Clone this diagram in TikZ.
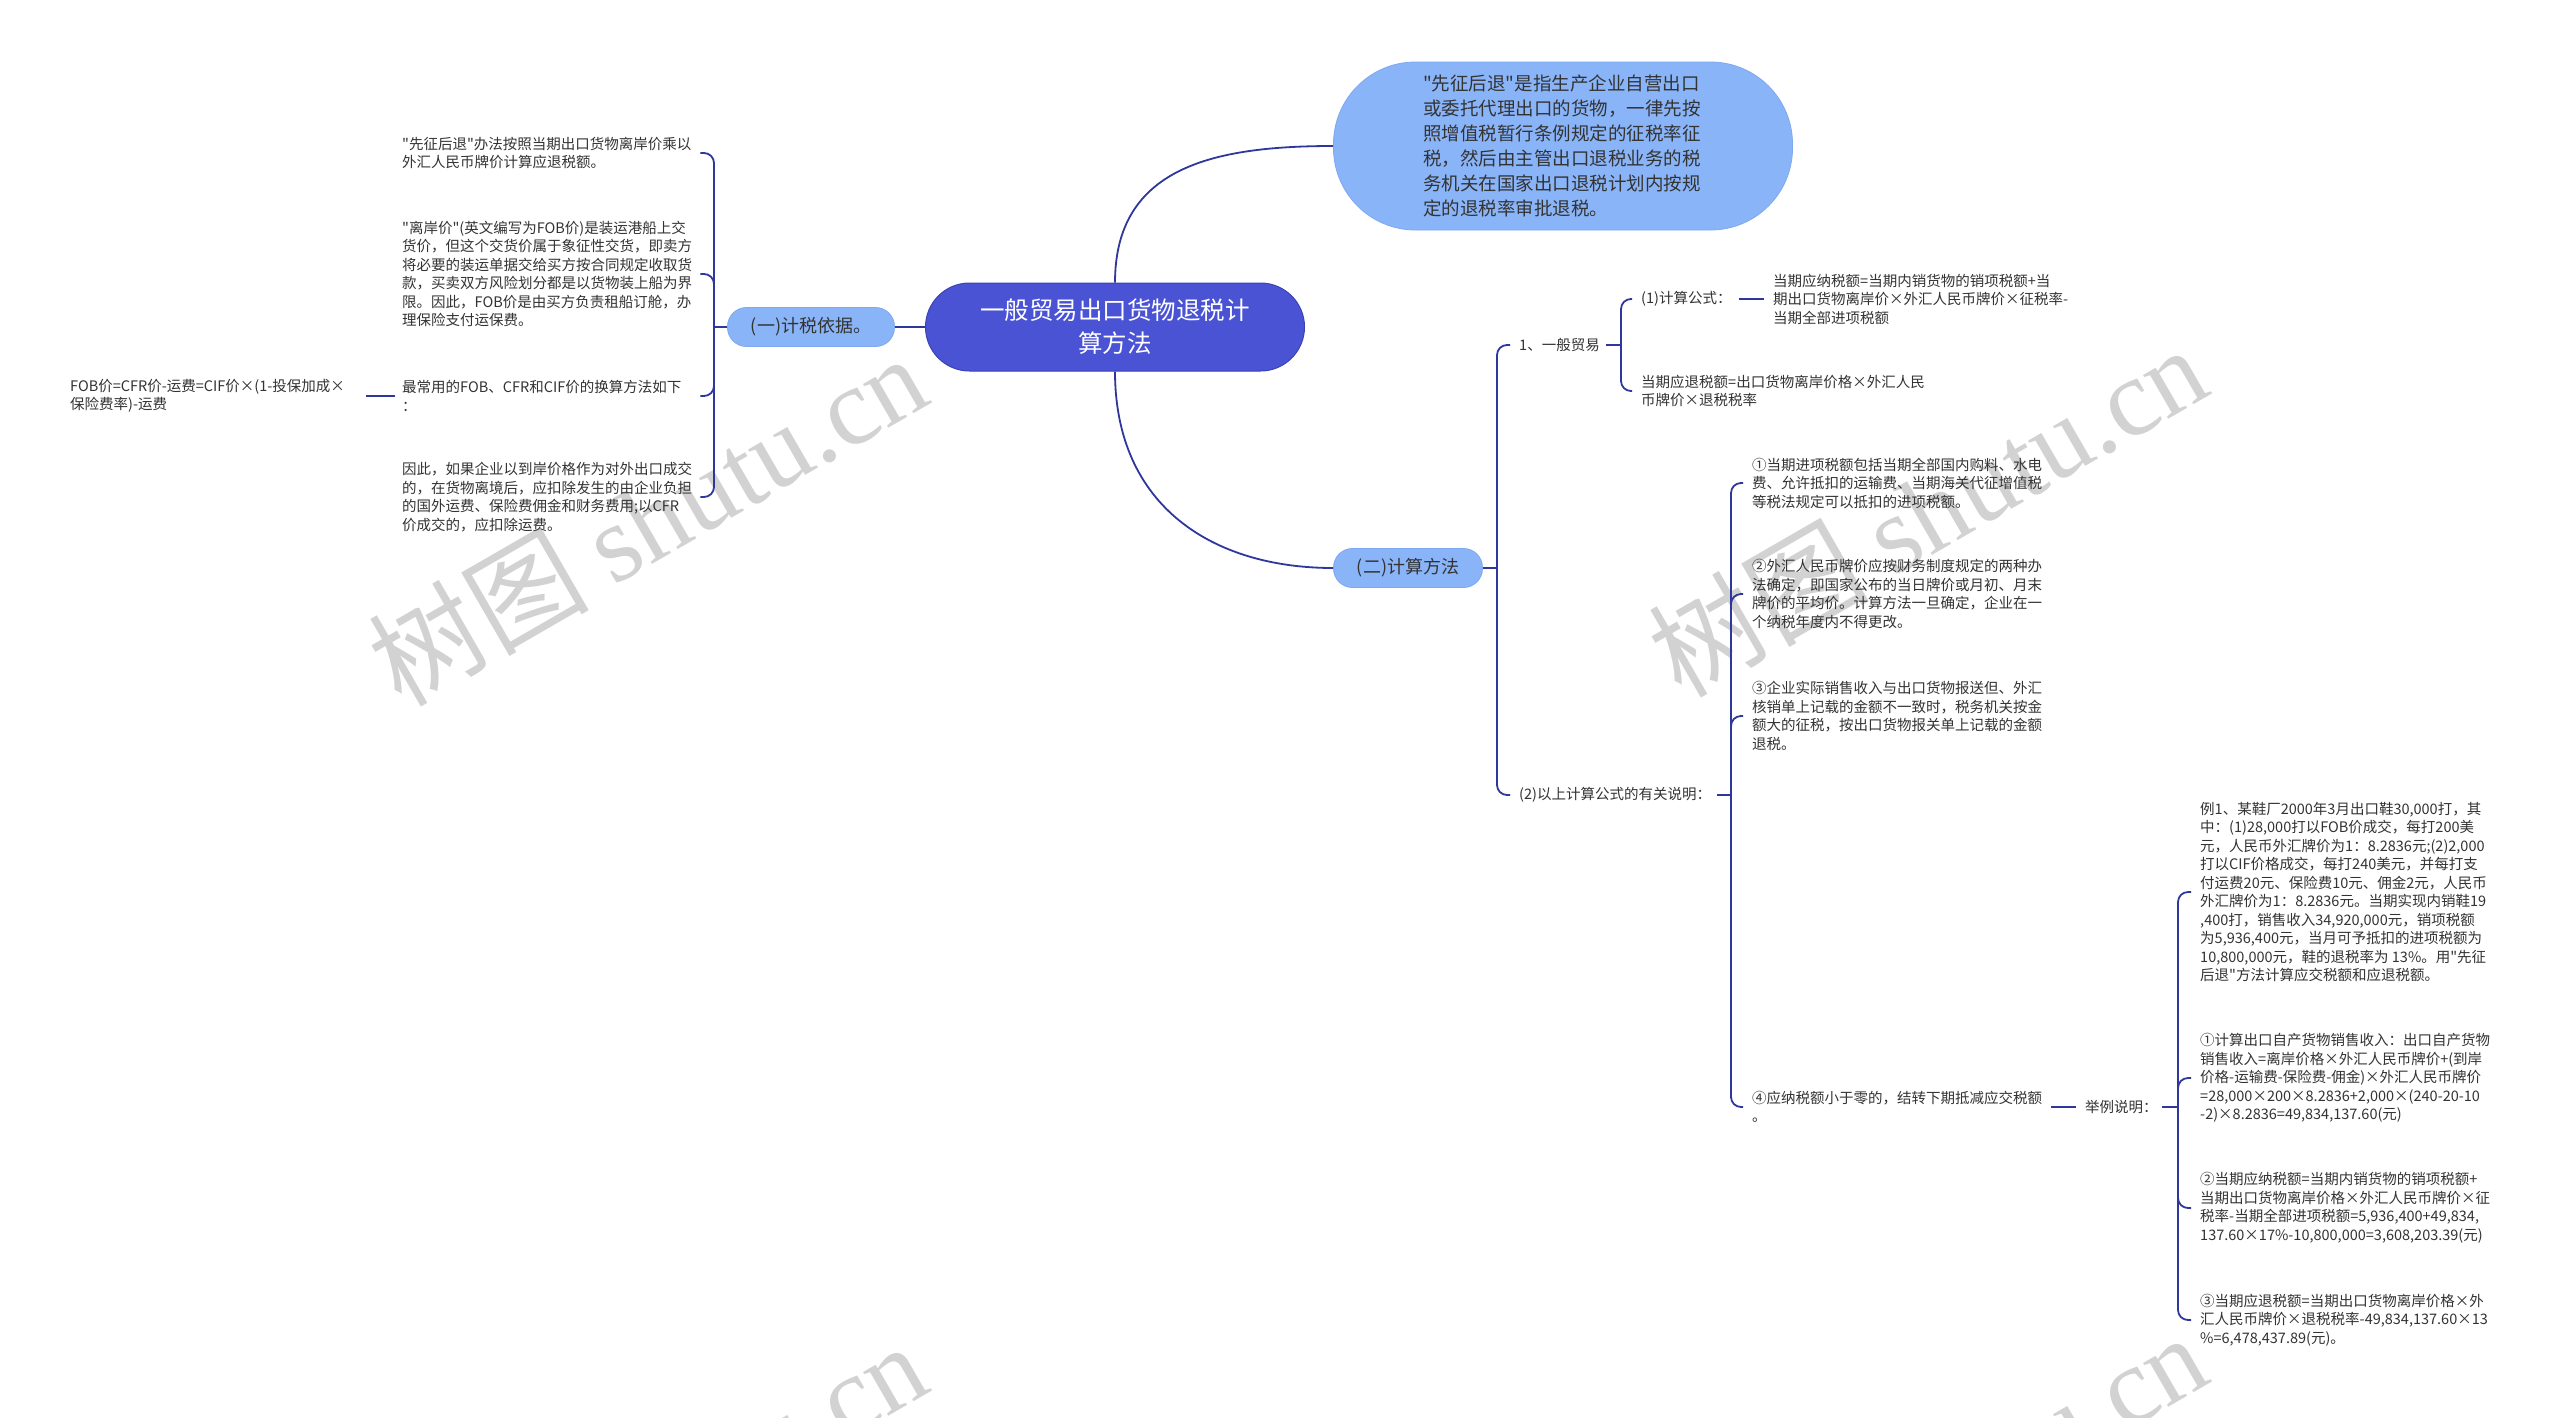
\documentclass[tikz,border=0pt]{standalone}
\usepackage{fontspec}
\setmainfont{Noto Sans CJK SC}[Ligatures=TeXOff]
\newfontfamily\wmserif{Liberation Serif}
\usetikzlibrary{calc}
\definecolor{conn}{HTML}{2E379B}
\definecolor{rootfill}{HTML}{4B53D5}
\definecolor{rootdraw}{HTML}{3A42B5}
\definecolor{lightfill}{HTML}{8AB4F8}
\definecolor{lightdraw}{HTML}{7EA8F0}
\definecolor{txt}{HTML}{333333}
\definecolor{wmgray}{HTML}{D2D2D2}
\tikzset{
  link/.style={draw=conn, line width=1.8pt, rounded corners=10pt},
  leaf/.style={inner sep=0pt, align=left, text=txt, font=\fontsize{14.5}{18.5}\selectfont, anchor=west},
  leafw/.style={leaf, text width=292pt},
  rootbox/.style={draw=rootdraw, fill=rootfill, line width=1pt, rounded corners=44pt, minimum width=379pt, minimum height=88pt, inner sep=0pt, text=white, align=center, font=\fontsize{24.5}{33}\selectfont},
  bubble/.style={draw=lightdraw, fill=lightfill, line width=0.8pt, rounded corners=82pt, minimum width=459pt, minimum height=168pt, inner sep=0pt, text width=280pt, align=left, text=txt, font=\fontsize{18.5}{25}\selectfont},
  subbox/.style={draw=lightdraw, fill=lightfill, line width=0.8pt, rounded corners=19pt, minimum height=39pt, inner sep=0pt, text=txt, font=\fontsize{18}{22}\selectfont},
  wmark/.style={text=wmgray, rotate=30, inner sep=0pt, font=\fontsize{110}{120}\selectfont},
}
\begin{document}
\begin{tikzpicture}[x=1pt,y=-1pt]
\useasboundingbox (0,0) rectangle (2560,1417);
\fill[white] (0,0) rectangle (2560,1417);
% watermarks
\node[wmark] (wm1) at (647,519) {树图 {\wmserif shutu.cn}};
\node[wmark] (wm2) at (1927,510) {树图 {\wmserif shutu.cn}};
\node[wmark] (wm3) at (647,1507) {树图 {\wmserif shutu.cn}};
\node[wmark] (wm4) at (1927,1498) {树图 {\wmserif shutu.cn}};
% main nodes
\node[rootbox] (root) at (1115,327) {一般贸易出口货物退税计\\算方法};
\node[bubble] (def) at (1563,146) {"先征后退"是指生产企业自营出口\\或委托代理出口的货物，一律先按\\照增值税暂行条例规定的征税率征\\税，然后由主管出口退税业务的税\\务机关在国家出口退税计划内按规\\定的退税率审批退税。};
\node[subbox, minimum width=167pt] (jis) at (811,327) {(一)计税依据。};
\node[subbox, minimum width=149pt] (calc) at (1408,568) {(二)计算方法};
% left leaves
\node[leafw] (l1) at (402,153) {"先征后退"办法按照当期出口货物离岸价乘以\\外汇人民币牌价计算应退税额。};
\node[leafw] (l2) at (402,274) {"离岸价"(英文编写为FOB价)是装运港船上交\\货价，但这个交货价属于象征性交货，即卖方\\将必要的装运单据交给买方按合同规定收取货\\款，买卖双方风险划分都是以货物装上船为界\\限。因此，FOB价是由买方负责租船订舱，办\\理保险支付运保费。};
\node[leafw] (l3) at (402,396) {最常用的FOB、CFR和CIF价的换算方法如下\\：};
\node[leafw] (l4) at (402,497) {因此，如果企业以到岸价格作为对外出口成交\\的，在货物离境后，应扣除发生的由企业负担\\的国外运费、保险费佣金和财务费用;以CFR\\价成交的，应扣除运费。};
\node[leaf] (fob) at (70,396) {FOB价=CFR价-运费=CIF价×(1-投保加成×\\保险费率)-运费};
% right leaves
\node[leaf] (r1) at (1519,345) {1、一般贸易};
\node[leaf] (r1a) at (1641,299) {(1)计算公式：};
\node[leaf] (r1a1) at (1773,299) {当期应纳税额=当期内销货物的销项税额+当\\期出口货物离岸价×外汇人民币牌价×征税率-\\当期全部进项税额};
\node[leaf] (r1b) at (1641,391) {当期应退税额=出口货物离岸价格×外汇人民\\币牌价×退税税率};
\node[leaf] (r2) at (1519,795) {(2)以上计算公式的有关说明：};
\node[leaf] (r2a) at (1752,483) {①当期进项税额包括当期全部国内购料、水电\\费、允许抵扣的运输费、当期海关代征增值税\\等税法规定可以抵扣的进项税额。};
\node[leaf] (r2b) at (1752,594) {②外汇人民币牌价应按财务制度规定的两种办\\法确定，即国家公布的当日牌价或月初、月末\\牌价的平均价。计算方法一旦确定，企业在一\\个纳税年度内不得更改。};
\node[leaf] (r2c) at (1752,716) {③企业实际销售收入与出口货物报送但、外汇\\核销单上记载的金额不一致时，税务机关按金\\额大的征税，按出口货物报关单上记载的金额\\退税。};
\node[leafw] (r2d) at (1752,1107) {④应纳税额小于零的，结转下期抵减应交税额\\。};
\node[leaf] (r2d1) at (2085,1107) {举例说明：};
\node[leaf] (e1) at (2200,892) {例1、某鞋厂2000年3月出口鞋30,000打，其\\中：(1)28,000打以FOB价成交，每打200美\\元，人民币外汇牌价为1：8.2836元;(2)2,000\\打以CIF价格成交，每打240美元，并每打支\\付运费20元、保险费10元、佣金2元，人民币\\外汇牌价为1：8.2836元。当期实现内销鞋19\\,400打，销售收入34,920,000元，销项税额\\为5,936,400元，当月可予抵扣的进项税额为\\10,800,000元，鞋的退税率为 13\%。用"先征\\后退"方法计算应交税额和应退税额。};
\node[leaf] (e2) at (2200,1078) {①计算出口自产货物销售收入：出口自产货物\\销售收入=离岸价格×外汇人民币牌价+(到岸\\价格-运输费-保险费-佣金)×外汇人民币牌价\\=28,000×200×8.2836+2,000×(240-20-10\\-2)×8.2836=49,834,137.60(元)};
\node[leaf] (e3) at (2200,1208) {②当期应纳税额=当期内销货物的销项税额+\\当期出口货物离岸价格×外汇人民币牌价×征\\税率-当期全部进项税额=5,936,400+49,834,\\137.60×17\%-10,800,000=3,608,203.39(元)};
\node[leaf] (e4) at (2200,1320) {③当期应退税额=当期出口货物离岸价格×外\\汇人民币牌价×退税税率-49,834,137.60×13\\\%=6,478,437.89(元)。};
% junctions
\coordinate (j1) at (714,327);
\coordinate (j2) at (1497,568);
\coordinate (j3) at (1621,345);
\coordinate (j4) at (1731,795);
\coordinate (j5) at (2178,1107);
% connectors
\draw[link] (jis.east) -- (root.west);
\draw[link] (root.north) .. controls +(0,-115) and +(-120,0) .. (def.west);
\draw[link] (root.south) .. controls +(0,135) and +(-120,0) .. (calc.west);
\draw[link] (jis.west) -- (j1);
\foreach \c in {l1,l2,l3,l4} \draw[link] (j1) |- ([xshift=6pt]\c.east);
\draw[link] ([xshift=-7pt]l3.west) -- ([xshift=21pt]fob.east);
\draw[link] (calc.east) -- (j2);
\foreach \c in {r1,r2} \draw[link] (j2) |- ([xshift=-9pt]\c.west);
\draw[link] ([xshift=6pt]r1.east) -- (j3);
\foreach \c in {r1a,r1b} \draw[link] (j3) |- ([xshift=-9pt]\c.west);
\draw[link] ([xshift=7pt]r1a.east) -- ([xshift=-9pt]r1a1.west);
\draw[link] ([xshift=6pt]r2.east) -- (j4);
\foreach \c in {r2a,r2b,r2c,r2d} \draw[link] (j4) |- ([xshift=-9pt]\c.west);
\draw[link] ([xshift=7pt]r2d.east) -- ([xshift=-9pt]r2d1.west);
\draw[link] ([xshift=4pt]r2d1.east) -- (j5);
\foreach \c in {e1,e2,e3,e4} \draw[link] (j5) |- ([xshift=-9pt]\c.west);
\end{tikzpicture}
\end{document}
